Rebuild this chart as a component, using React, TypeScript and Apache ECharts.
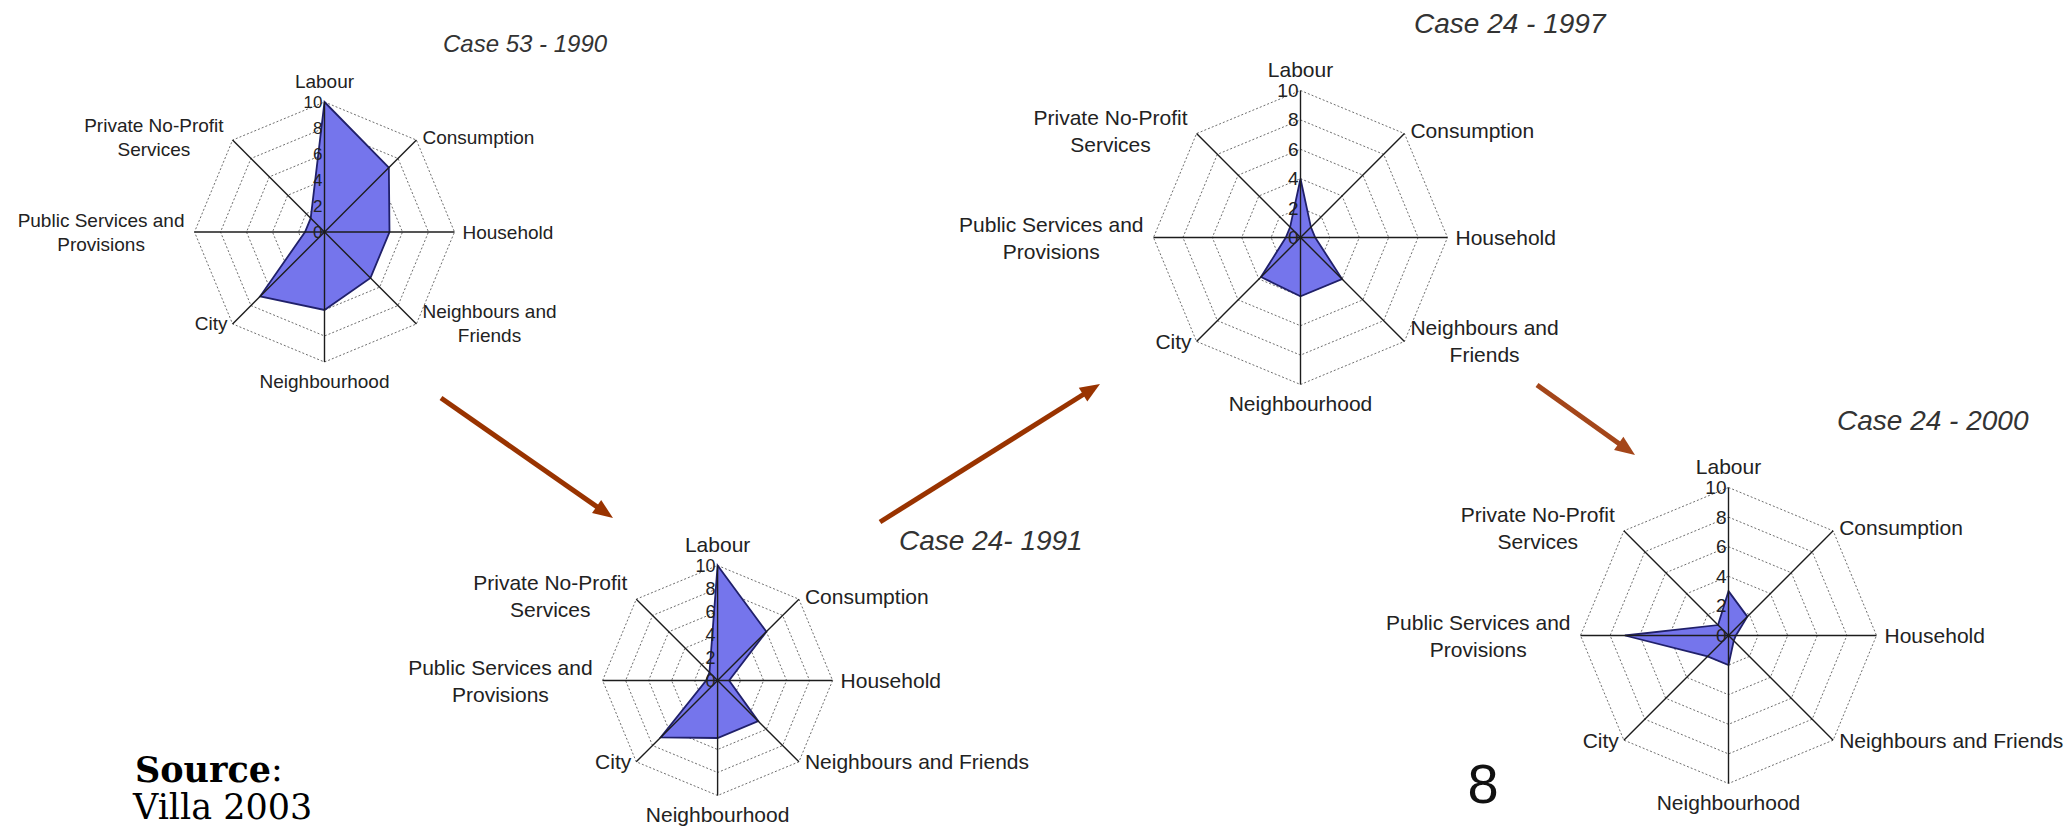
import React, { useEffect, useRef } from 'react';
import * as echarts from 'echarts';

// ---------- data ----------
const CATEGORIES = [
  'Labour',
  'Consumption',
  'Household',
  'Neighbours and Friends',
  'Neighbourhood',
  'City',
  'Public Services and Provisions',
  'Private No-Profit Services',
];

const LABELS_1990 = ['Labour', 'Consumption', 'Household', 'Neighbours and\nFriends', 'Neighbourhood', 'City', 'Public Services and\nProvisions', 'Private No-Profit\nServices'];
const LABELS_1991 = ['Labour', 'Consumption', 'Household', 'Neighbours and Friends', 'Neighbourhood', 'City', 'Public Services and\nProvisions', 'Private No-Profit\nServices'];
const LABELS_1997 = ['Labour', 'Consumption', 'Household', 'Neighbours and\nFriends', 'Neighbourhood', 'City', 'Public Services and\nProvisions', 'Private No-Profit\nServices'];
const LABELS_2000 = ['Labour', 'Consumption', 'Household', 'Neighbours and Friends', 'Neighbourhood', 'City', 'Public Services and\nProvisions', 'Private No-Profit\nServices'];

const VALUES_1990 = [10, 7, 5, 5, 6, 7, 1.5, 1.5];
const VALUES_1991 = [10, 6, 1, 5, 5, 7, 1, 1];
const VALUES_1997 = [4, 1, 1, 4, 4, 3.8, 1, 1];
const VALUES_2000 = [3, 1.8, 0.5, 0.5, 2, 2, 7, 1];

const TICKS = [0, 2, 4, 6, 8, 10];
const RINGS = [2, 4, 6, 8, 10];
const TITLES = ['Case 53 - 1990', 'Case 24- 1991', 'Case 24 - 1997', 'Case 24 - 2000'];

// ---------- layout ----------
const PANELS = [
  { cx: 324.5, cy: 232, r: 130, fs: 19, tfs: 17, labels: LABELS_1990, values: VALUES_1990, tx: 443, ty: 43, tsize: 24 },
  { cx: 717.6, cy: 680.5, r: 115, fs: 21, tfs: 18, labels: LABELS_1991, values: VALUES_1991, tx: 899, ty: 540, tsize: 28 },
  { cx: 1300.5, cy: 237.5, r: 147, fs: 21, tfs: 19, labels: LABELS_1997, values: VALUES_1997, tx: 1414, ty: 23, tsize: 28 },
  { cx: 1728.5, cy: 635.5, r: 148, fs: 21, tfs: 19, labels: LABELS_2000, values: VALUES_2000, tx: 1837, ty: 420, tsize: 28 },
];

const ARROWS = [
  { x1: 441, y1: 398, x2: 613, y2: 518, color: '#993300' },
  { x1: 880, y1: 522, x2: 1100, y2: 384, color: '#993300' },
  { x1: 1537, y1: 385, x2: 1635, y2: 455, color: '#a4461a' },
];

const FONT = '"Liberation Sans", Arial, sans-serif';
const ANGLES = CATEGORIES.map((_, k) => (k * Math.PI) / 4);

let measureCtx: CanvasRenderingContext2D | null = null;
function textWidth(text: string, size: number) {
  if (!measureCtx) measureCtx = document.createElement('canvas').getContext('2d');
  if (!measureCtx) return text.length * size * 0.5;
  measureCtx.font = `${size}px ${FONT}`;
  return Math.max(...text.split('\n').map((l) => measureCtx!.measureText(l).width));
}

function labelPos(k: number, ex: number, ey: number, w: number) {
  switch (k) {
    case 0: return [ex, ey - 21];
    case 1: return [ex + 6 + w / 2, ey - 3];
    case 2: return [ex + 8 + w / 2, ey];
    case 3: return [ex + 6 + w / 2, ey];
    case 4: return [ex, ey + 19];
    case 5: return [ex - 5 - w / 2, ey];
    case 6: return [ex - 10 - w / 2, ey];
    default: return [ex - 9 - w / 2, ey - 3];
  }
}

function arrowGraphic(a: any) {
  const dx = a.x2 - a.x1;
  const dy = a.y2 - a.y1;
  const len = Math.hypot(dx, dy);
  const ux = dx / len, uy = dy / len;
  const nx = -uy, ny = ux;
  const L = 20, W = 8;
  const bx = a.x2 - L * ux, by = a.y2 - L * uy;
  return {
    type: 'group',
    children: [
      { type: 'line', shape: { x1: a.x1, y1: a.y1, x2: bx + 4 * ux, y2: by + 4 * uy }, style: { stroke: a.color, lineWidth: 5, lineCap: 'butt' } },
      { type: 'polygon', shape: { points: [[a.x2, a.y2], [bx + W * nx, by + W * ny], [bx - W * nx, by - W * ny]] }, style: { fill: a.color } },
    ],
  };
}

export default function App() {
  const ref = useRef<HTMLDivElement>(null);

  useEffect(() => {
    document.body.style.margin = '0';
    if (!ref.current) return;
    const chart = echarts.init(ref.current, undefined, { renderer: 'svg' });

    const series: any[] = [];
    PANELS.forEach((p, i) => {
      // web rings
      series.push({
        type: 'custom', xAxisIndex: i, yAxisIndex: i, silent: true, clip: false, z: 1,
        data: RINGS.map((v) => [0, v]),
        renderItem: (params: any, api: any) => {
          const v = api.value(1);
          const pts = ANGLES.map((a) => api.coord([v * Math.sin(a), v * Math.cos(a)]));
          return { type: 'polygon', shape: { points: pts }, style: { fill: 'none', stroke: '#6e6e6e', lineWidth: 1, lineDash: [2, 2] } };
        },
      });
      // data polygon
      series.push({
        type: 'custom', xAxisIndex: i, yAxisIndex: i, silent: true, clip: false, z: 2,
        dimensions: CATEGORIES.map((_, k) => 'd' + k),
        data: [p.values],
        renderItem: (params: any, api: any) => {
          const pts = ANGLES.map((a, k) => {
            const v = api.value(k);
            return api.coord([v * Math.sin(a), v * Math.cos(a)]);
          });
          return { type: 'polygon', shape: { points: pts }, style: { fill: '#7575ec', stroke: '#20206a', lineWidth: 1.8, lineJoin: 'miter' } };
        },
      });
      // spokes and category labels
      series.push({
        type: 'custom', xAxisIndex: i, yAxisIndex: i, silent: true, clip: false, z: 3,
        data: CATEGORIES.map((_, k) => [k, 10]),
        renderItem: (params: any, api: any) => {
          const k = api.value(0);
          const m = api.value(1);
          const a = ANGLES[k];
          const c = api.coord([0, 0]);
          const e = api.coord([m * Math.sin(a), m * Math.cos(a)]);
          const text = p.labels[params.dataIndex];
          const w = textWidth(text, p.fs);
          const [lx, ly] = labelPos(k, e[0], e[1], w);
          return {
            type: 'group',
            children: [
              { type: 'line', shape: { x1: c[0], y1: c[1], x2: e[0], y2: e[1] }, style: { stroke: '#1c1c1c', lineWidth: 1.4 } },
              {
                type: 'text', x: lx, y: ly,
                style: { text, fill: '#222', fontSize: p.fs, fontFamily: FONT, align: 'center', verticalAlign: 'middle', lineHeight: Math.round(p.fs * 1.28) },
              },
            ],
          };
        },
      });
      // tick labels
      series.push({
        type: 'custom', xAxisIndex: i, yAxisIndex: i, silent: true, clip: false, z: 4,
        data: TICKS.map((v) => [0, v]),
        renderItem: (params: any, api: any) => {
          const v = api.value(1);
          const c = api.coord([0, v]);
          return {
            type: 'text', x: c[0] - 2, y: c[1],
            style: { text: String(v), fill: '#222', fontSize: p.tfs, fontFamily: FONT, align: 'right', verticalAlign: 'middle' },
          };
        },
      });
    });

    const graphic: any[] = [];
    PANELS.forEach((p, i) => {
      graphic.push({
        type: 'text', x: p.tx, y: p.ty,
        style: { text: TITLES[i], fill: '#333', font: `italic ${p.tsize}px ${FONT}`, align: 'left', verticalAlign: 'middle' },
      });
    });
    ARROWS.forEach((a) => graphic.push(arrowGraphic(a)));
    graphic.push({
      type: 'text', x: 1483, y: 783,
      style: { text: '8', fill: '#111', font: `56px ${FONT}`, align: 'center', verticalAlign: 'middle' },
    });
    graphic.push({
      type: 'text', x: 135, y: 769,
      style: {
        text: '{b|Source}{n|:}', align: 'left', verticalAlign: 'middle',
        rich: {
          b: { fontFamily: '"DejaVu Serif", serif', fontWeight: 'bold', fontSize: 35, fill: '#000' },
          n: { fontFamily: '"DejaVu Serif", serif', fontSize: 35, fill: '#000' },
        },
      },
    });
    graphic.push({
      type: 'text', x: 133, y: 807,
      style: { text: 'Villa 2003', fill: '#000', font: '35px "DejaVu Serif", serif', align: 'left', verticalAlign: 'middle' },
    });

    chart.setOption({
      animation: false,
      backgroundColor: '#ffffff',
      grid: PANELS.map((p) => ({ left: p.cx - p.r, top: p.cy - p.r, width: 2 * p.r, height: 2 * p.r })),
      xAxis: PANELS.map((_, i) => ({ type: 'value', gridIndex: i, min: -10, max: 10, show: false })),
      yAxis: PANELS.map((_, i) => ({ type: 'value', gridIndex: i, min: -10, max: 10, show: false })),
      series,
      graphic,
    });

    return () => chart.dispose();
  }, []);

  return <div ref={ref} style={{ width: 2066, height: 827, background: '#fff', overflow: 'hidden' }} />;
}
